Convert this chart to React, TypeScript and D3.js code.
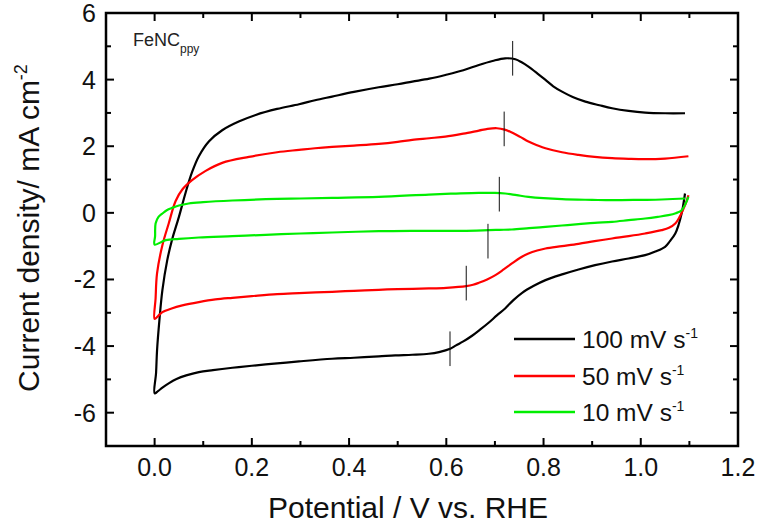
import React from "react";
import * as d3 from "d3";

const W = 759;
const H = 530;

// x: potential (V vs RHE), y: current density (mA cm^-2)
const xTicksMajor = [0.0, 0.2, 0.4, 0.6, 0.8, 1.0, 1.2];
const yTicksMajor = [-6, -4, -2, 0, 2, 4, 6];

const black100: [number, number][] = [
  [1.091, 0.58], [1.087, 0.2], [1.084, -0.02], [1.078, -0.35], [1.071, -0.62], [1.06, -0.85], [1.05, -1.02],
  [1.03, -1.16], [1.009, -1.27], [0.975, -1.37], [0.941, -1.46], [0.906, -1.57], [0.872, -1.7], [0.84, -1.84],
  [0.804, -2.02], [0.78, -2.19], [0.756, -2.4], [0.738, -2.62], [0.721, -2.87], [0.704, -3.08], [0.687, -3.3],
  [0.67, -3.5], [0.653, -3.69], [0.635, -3.86], [0.62, -3.98], [0.608, -4.08], [0.585, -4.18], [0.564, -4.23],
  [0.53, -4.26], [0.495, -4.28], [0.461, -4.31], [0.41, -4.35], [0.365, -4.38], [0.297, -4.46], [0.252, -4.52],
  [0.2, -4.59], [0.16, -4.65], [0.12, -4.72], [0.091, -4.78], [0.065, -4.88], [0.045, -4.99], [0.029, -5.12],
  [0.016, -5.25], [0.007, -5.35], [0.0, -5.42],
  [0.003, -4.8], [0.005, -4.13], [0.01, -3.2], [0.016, -2.32], [0.026, -1.42], [0.036, -0.8], [0.05, -0.12],
  [0.064, 0.62], [0.077, 1.22], [0.091, 1.7], [0.112, 2.15], [0.139, 2.48], [0.173, 2.74], [0.208, 2.94],
  [0.252, 3.12], [0.297, 3.26], [0.33, 3.38], [0.365, 3.49], [0.41, 3.63], [0.461, 3.77], [0.5, 3.86],
  [0.53, 3.94], [0.565, 4.03], [0.598, 4.14], [0.635, 4.28], [0.667, 4.44], [0.695, 4.56], [0.721, 4.64],
  [0.742, 4.61], [0.755, 4.52], [0.769, 4.39], [0.787, 4.19], [0.804, 3.99], [0.82, 3.8], [0.838, 3.64],
  [0.86, 3.48], [0.886, 3.34], [0.915, 3.23], [0.941, 3.14], [0.975, 3.06], [1.009, 3.01], [1.05, 2.99],
  [1.091, 2.99],
];

const red50: [number, number][] = [
  [1.098, 0.53], [1.093, 0.3], [1.088, 0.13], [1.08, -0.12], [1.071, -0.32], [1.058, -0.45], [1.043, -0.52],
  [1.009, -0.62], [0.975, -0.7], [0.941, -0.77], [0.905, -0.85], [0.872, -0.93], [0.838, -1.0], [0.804, -1.07],
  [0.787, -1.13], [0.769, -1.22], [0.752, -1.35], [0.735, -1.52], [0.718, -1.7], [0.701, -1.87], [0.684, -2.0],
  [0.667, -2.1], [0.655, -2.16], [0.641, -2.2], [0.6, -2.25], [0.564, -2.27], [0.5, -2.29], [0.461, -2.31],
  [0.41, -2.34], [0.365, -2.37], [0.297, -2.41], [0.252, -2.44], [0.2, -2.5], [0.16, -2.55], [0.125, -2.6],
  [0.091, -2.68], [0.057, -2.78], [0.035, -2.87], [0.016, -2.98], [0.007, -3.1], [0.0, -3.18],
  [0.002, -2.57], [0.005, -1.82], [0.016, -0.97], [0.029, -0.32], [0.043, 0.35], [0.057, 0.7], [0.077, 0.98],
  [0.105, 1.26], [0.139, 1.5], [0.194, 1.68], [0.252, 1.82], [0.297, 1.89], [0.33, 1.94], [0.365, 1.98],
  [0.41, 2.02], [0.461, 2.07], [0.5, 2.13], [0.53, 2.19], [0.565, 2.24], [0.598, 2.29], [0.635, 2.38],
  [0.667, 2.47], [0.685, 2.52], [0.704, 2.54], [0.72, 2.5], [0.735, 2.41], [0.752, 2.28], [0.769, 2.14],
  [0.787, 2.03], [0.804, 1.94], [0.838, 1.82], [0.872, 1.74], [0.905, 1.68], [0.941, 1.64], [0.975, 1.62],
  [1.009, 1.61], [1.05, 1.63], [1.098, 1.7],
];

const green10: [number, number][] = [
  [1.098, 0.48], [1.093, 0.3], [1.084, 0.08], [1.072, -0.01], [1.057, -0.07], [1.035, -0.12], [1.009, -0.17],
  [0.975, -0.22], [0.941, -0.27], [0.905, -0.3], [0.872, -0.34], [0.838, -0.38], [0.804, -0.42], [0.77, -0.46],
  [0.735, -0.5], [0.71, -0.51], [0.687, -0.52], [0.632, -0.54], [0.53, -0.54], [0.461, -0.55], [0.365, -0.59],
  [0.3, -0.62], [0.228, -0.66], [0.16, -0.7], [0.091, -0.74], [0.05, -0.78], [0.023, -0.82], [0.0, -0.95],
  [0.001, -0.7], [0.002, -0.32], [0.008, -0.12], [0.016, -0.02], [0.025, 0.08], [0.036, 0.15], [0.05, 0.22],
  [0.07, 0.28], [0.1, 0.32], [0.16, 0.37], [0.252, 0.42], [0.3, 0.43], [0.365, 0.45],
  [0.461, 0.48], [0.564, 0.55], [0.62, 0.58], [0.667, 0.6], [0.7, 0.6], [0.721, 0.58], [0.745, 0.53],
  [0.769, 0.48], [0.8, 0.44], [0.838, 0.41], [0.9, 0.39], [0.941, 0.38], [1.0, 0.39], [1.043, 0.4],
  [1.091, 0.43],
];

// peak position markers (center x, center y)
const peakMarkers: [number, number][] = [
  [0.7365, 4.64], [0.719, 2.52], [0.709, 0.56], [0.6857, -0.85], [0.641, -2.11], [0.6076, -4.08],
];

const seriesNames = ["100", "50", "10"];
const seriesColors = ["#000000", "#ff0000", "#00ee00"];
const seriesData = [black100, red50, green10];

export default function App() {
  const x = d3.scaleLinear().domain([-0.1, 1.2]).range([106, 738]);
  const y = d3.scaleLinear().domain([-7, 6]).range([446, 13]);
  const line = d3
    .line<[number, number]>()
    .x((d) => x(d[0]))
    .y((d) => y(d[1]))
    .curve(d3.curveCatmullRom.alpha(0.5));

  const xMinor = d3.range(-0.1, 1.201, 0.1).map((v) => Math.round(v * 10) / 10);
  const yMinor = d3.range(-7, 6.01, 1);
  const font = "'Liberation Sans', Arial, sans-serif";
  const [x0, x1] = x.range();
  const [yb, yt] = y.range();
  const markerHalf = 0.52;

  return (
    <svg width={W} height={H} style={{ position: "absolute", left: 0, top: 0 }} fontFamily={font}>
      <rect width={W} height={H} fill="#fff" />
      {seriesData.map((d, i) => (
        <path key={i} d={line(d) || ""} fill="none" stroke={seriesColors[i]} strokeWidth={2.2} strokeLinejoin="round" />
      ))}
      {peakMarkers.map((m, i) => (
        <line key={i} x1={x(m[0])} x2={x(m[0])} y1={y(m[1] + markerHalf)} y2={y(m[1] - markerHalf)} stroke="#111" strokeWidth={1} />
      ))}
      {xMinor.map((v, i) => {
        const major = xTicksMajor.some((t) => Math.abs(t - v) < 1e-6);
        const len = major ? 8 : 5;
        return (
          <g key={"xt" + i}>
            <line x1={x(v)} x2={x(v)} y1={yb} y2={yb - len} stroke="#000" strokeWidth={2} />
            <line x1={x(v)} x2={x(v)} y1={yt} y2={yt + len} stroke="#000" strokeWidth={2} />
          </g>
        );
      })}
      {yMinor.map((v, i) => {
        const major = yTicksMajor.includes(v);
        const len = major ? 8 : 5;
        return (
          <g key={"yt" + i}>
            <line x1={x0} x2={x0 + len} y1={y(v)} y2={y(v)} stroke="#000" strokeWidth={2} />
            <line x1={x1} x2={x1 - len} y1={y(v)} y2={y(v)} stroke="#000" strokeWidth={2} />
          </g>
        );
      })}
      <rect x={x0} y={yt} width={x1 - x0} height={yb - yt} fill="none" stroke="#000" strokeWidth={2.5} />
      {xTicksMajor.map((v) => (
        <text key={"xl" + v} x={x(v)} y={476} textAnchor="middle" fontSize={25} fill="#111">
          {v.toFixed(1)}
        </text>
      ))}
      {yTicksMajor.map((v) => (
        <text key={"yl" + v} x={96} y={y(v) + 9} textAnchor="end" fontSize={25} fill="#111">
          {v}
        </text>
      ))}
      <text x={408} y={518} textAnchor="middle" fontSize={30} fill="#111">
        Potential / V vs. RHE
      </text>
      <text transform={`translate(38.5,${228}) rotate(-90)`} textAnchor="middle" fontSize={30} fill="#111">
        Current density/ mA cm
        <tspan dy={-12} fontSize={18}>-2</tspan>
      </text>
      <text x={133} y={45.5} fontSize={18} fill="#222">
        FeNC
        <tspan dy={7} fontSize={12}>ppy</tspan>
      </text>
      {seriesNames.map((n, i) => {
        const ly = [339, 376, 412][i];
        return (
          <g key={"lg" + i}>
            <line x1={514} x2={575} y1={ly} y2={ly} stroke={seriesColors[i]} strokeWidth={2.5} />
            <text x={582} y={ly + 9} fontSize={24.5} fill="#111">
              {n} mV s
              <tspan dy={-10} fontSize={14}>-1</tspan>
            </text>
          </g>
        );
      })}
    </svg>
  );
}
